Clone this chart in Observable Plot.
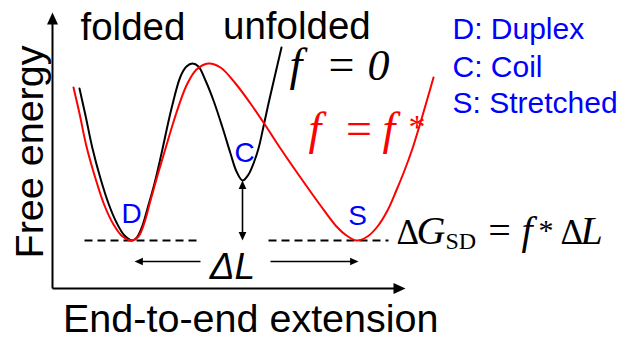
<!DOCTYPE html>
<html>
<head>
<meta charset="utf-8">
<script src="https://cdn.jsdelivr.net/npm/d3@7"></script>
<script src="https://cdn.jsdelivr.net/npm/@observablehq/plot@0.6"></script>
<style>
  html, body { margin: 0; padding: 0; background: #fff; }
</style>
</head>
<body>
<div id="chart"></div>
<script>
// Free-energy landscape (arbitrary units): extension vs free energy
const blackX = [27, 33, 40, 48, 56, 64, 72, 80, 85, 90, 95, 102, 109, 119, 128, 134, 140, 146, 153, 161, 170, 178, 184, 190, 196, 201, 206, 211, 216, 222, 229];
const blackG = [200, 173, 140, 110, 85, 66, 53, 48, 52, 63, 80, 105, 135, 180, 212, 222, 225, 222, 208, 188, 161, 135, 117, 108, 114, 125, 140, 162, 185, 211, 241];
const redX = [21, 27, 34, 43, 52, 61, 70, 80, 86, 92, 98, 105, 113, 124, 134, 144, 156, 168, 183, 198, 213, 228, 248, 268, 284, 294, 304, 315, 325, 335, 343, 352, 360, 368, 375, 381];
const redG = [201, 175, 142, 110, 83, 64, 52, 48, 52, 66, 88, 113, 140, 176, 203, 219, 225, 221, 205, 185, 163, 140, 111, 83, 62, 53, 48, 52, 62, 78, 96, 118, 140, 166, 190, 211];

const stateNames = ["D", "C", "S"];
const stateX = [79, 192, 305];
const stateG = [66, 127, 64];
const legendItems = ["D: Duplex", "C: Coil", "S: Stretched"];
const legendG = [250, 212, 176];

const baseG = 48;      // level of D and S minima
const coilG = 108;     // level of C minimum
const dXpos = 80, sXpos = 304, cXpos = 190;

const blackData = blackX.map((x, i) => ({x, g: blackG[i]}));
const redData = redX.map((x, i) => ({x, g: redG[i]}));
const states = stateNames.map((t, i) => ({t, x: stateX[i], g: stateG[i]}));
const legend = legendItems.map((t, i) => ({t, x: 400, g: legendG[i]}));

// arrowhead symbol: tip at origin, pointing up
const arrowHead = {
  draw(ctx, size) {
    const r = Math.sqrt(size / Math.PI);
    ctx.moveTo(0, 0);
    ctx.lineTo(-0.55 * r, 1.2 * r);
    ctx.lineTo(0.55 * r, 1.2 * r);
    ctx.closePath();
  }
};

const axisLines = [
  {x1: 0, y1: 0, x2: 0, y2: 268},
  {x1: 0, y1: 0, x2: 344, y2: 0}
];
const axisHeads = [
  {x: 0, g: 276, rot: 0},
  {x: 353, g: 0, rot: 90}
];
const dashed = [
  {x1: 32, x2: 148, y: baseG},
  {x1: 216, x2: 336, y: baseG}
];
const smallLines = [
  {x1: cXpos, y1: coilG - 5, x2: cXpos, y2: baseG + 5},
  {x1: 148, y1: 27, x2: dXpos + 6, y2: 27},
  {x1: 218, y1: 27, x2: sXpos - 4, y2: 27}
];
const smallHeads = [
  {x: cXpos, g: coilG, rot: 0},
  {x: cXpos, g: baseG, rot: 180},
  {x: dXpos + 2, g: 27, rot: -90},
  {x: sXpos + 2, g: 27, rot: 90}
];

const sans = "Liberation Sans, Arial, Helvetica, sans-serif";
const serif = "Liberation Serif, Times New Roman, serif";

// math pieces
const mathPieces = [
  {t: "f", x: 237, g: 209, a: "start", s: 46, st: "italic", c: "#000"},
  {t: "=", x: 289, g: 209, a: "middle", s: 46, st: "normal", c: "#000"},
  {t: "0", x: 326, g: 209, a: "middle", s: 44, st: "italic", c: "#000"},
  {t: "f", x: 256, g: 145, a: "start", s: 46, st: "italic", c: "#ff0000"},
  {t: "=", x: 306.5, g: 145, a: "middle", s: 46, st: "normal", c: "#ff0000"},
  {t: "f", x: 330, g: 145, a: "start", s: 46, st: "italic", c: "#ff0000"},
  {t: "*", x: 356, g: 151, a: "start", s: 34, st: "normal", c: "#ff0000"},
  {t: "Δ", x: 344, g: 45, a: "start", s: 35, st: "normal", c: "#000"},
  {t: "G", x: 364, g: 45, a: "start", s: 40, st: "italic", c: "#000"},
  {t: "SD", x: 393, g: 40, a: "start", s: 24, st: "normal", c: "#000"},
  {t: "=", x: 447, g: 45, a: "middle", s: 40, st: "normal", c: "#000"},
  {t: "f", x: 469, g: 45, a: "start", s: 40, st: "italic", c: "#000"},
  {t: "*", x: 486, g: 49, a: "start", s: 30, st: "normal", c: "#000"},
  {t: "Δ", x: 508, g: 45, a: "start", s: 35, st: "normal", c: "#000"},
  {t: "L", x: 528, g: 45, a: "start", s: 40, st: "italic", c: "#000"}
];

const marks = [
  // axes
  Plot.link(axisLines, {x1: "x1", y1: "y1", x2: "x2", y2: "y2", stroke: "#000", strokeWidth: 2}),
  Plot.dot(axisHeads, {x: "x", y: "g", rotate: "rot", symbol: arrowHead, r: 10, fill: "#000", stroke: null}),
  // dashed baseline
  Plot.link(dashed, {x1: "x1", x2: "x2", y1: "y", y2: "y", stroke: "#000", strokeWidth: 1.8, strokeDasharray: "8,5"}),
  // curves
  Plot.line(blackData, {x: "x", y: "g", stroke: "#000", strokeWidth: 2, curve: "catmull-rom"}),
  Plot.line(redData, {x: "x", y: "g", stroke: "#ff0000", strokeWidth: 2, curve: "catmull-rom"}),
  // small arrows
  Plot.link(smallLines, {x1: "x1", y1: "y1", x2: "x2", y2: "y2", stroke: "#000", strokeWidth: 1.6}),
  Plot.dot(smallHeads, {x: "x", y: "g", rotate: "rot", symbol: arrowHead, r: 7, fill: "#000", stroke: null}),
  // state labels
  Plot.text(states, {x: "x", y: "g", text: "t", fill: "#0000ff", fontSize: 28, fontFamily: sans, textAnchor: "middle", lineAnchor: "bottom"}),
  // legend
  Plot.text(legend, {x: "x", y: "g", text: "t", fill: "#0000ff", fontSize: 30, fontFamily: sans, textAnchor: "start", lineAnchor: "bottom"}),
  // titles
  Plot.text(["folded"], {x: 28, y: 249, text: d => d, fill: "#000", fontSize: 38.5, fontFamily: sans, textAnchor: "start", lineAnchor: "bottom"}),
  Plot.text(["unfolded"], {x: 170.5, y: 250, text: d => d, fill: "#000", fontSize: 38.5, fontFamily: sans, textAnchor: "start", lineAnchor: "bottom"}),
  Plot.text(["Free energy"], {x: -10, y: 136.5, text: d => d, rotate: -90, fill: "#000", fontSize: 39.5, fontFamily: sans, textAnchor: "middle", lineAnchor: "bottom"}),
  Plot.text(["End-to-end extension"], {x: 10.5, y: -43, text: d => d, fill: "#000", fontSize: 39.5, fontFamily: sans, textAnchor: "start", lineAnchor: "bottom"}),
  Plot.text(["ΔL"], {x: 180, y: 10, text: d => d, fill: "#000", fontSize: 37, fontStyle: "italic", fontFamily: sans, textAnchor: "middle", lineAnchor: "bottom"})
];

for (const p of mathPieces) {
  marks.push(Plot.text([p], {x: "x", y: "g", text: "t", fill: p.c, fontSize: p.s, fontStyle: p.st, fontFamily: serif, textAnchor: p.a, lineAnchor: "bottom"}));
}

const chart = Plot.plot({
  width: 623,
  height: 337,
  margin: 0,
  x: {axis: null, domain: [-52, 571], range: [0, 623]},
  y: {axis: null, domain: [-49, 288], range: [337, 0]},
  style: {background: "#fff", overflow: "visible"},
  marks
});
document.getElementById("chart").appendChild(chart);
</script>
</body>
</html>
